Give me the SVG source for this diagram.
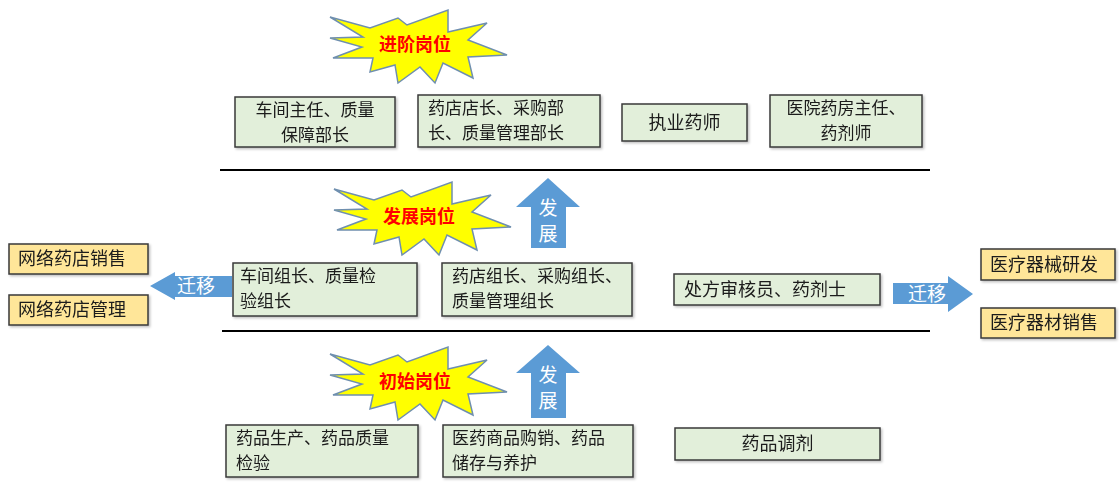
<svg xmlns="http://www.w3.org/2000/svg" width="1120" height="491" viewBox="0 0 1120 491">
<style>
.box{fill:#E2EFDA;stroke:#3A3A3A;stroke-width:1.5}
.ybox{fill:#FFE699;stroke:#3A3A3A;stroke-width:1.5}
.t{font-family:"Microsoft YaHei","Noto Sans CJK SC",sans-serif;font-size:18px;fill:#1a1a1a}
.t2{font-size:17px}
.st{font-family:"Microsoft YaHei","Noto Sans CJK SC",sans-serif;font-size:18px;font-weight:bold;fill:#FF0000;text-anchor:middle}
.at{font-family:"Microsoft YaHei","Noto Sans CJK SC",sans-serif;font-size:19px;fill:#FFFFFF;text-anchor:middle}
.star{fill:#FFFF00;stroke:#6F8FAF;stroke-width:1.5;stroke-linejoin:miter}
.arr{fill:#5B9BD5}
.sep{stroke:#000;stroke-width:2}
.c{text-anchor:middle}
</style>
<defs>
<path id="starShape" d="M-85,-28 L-45,-17 L-17,-27 L-8,-20 L33,-35 L33,-13 L72,-22 L53,-5 L92,10 L53,12 L58,33 L28,18 L20,38 L5,22 L-17,38 L-20,20 L-45,27 L-42,13 L-82,13 L-53,2 L-85,-7 L-52,-8 Z"/>
<filter id="sh" x="-10%" y="-10%" width="130%" height="140%">
<feDropShadow dx="1.5" dy="1.5" stdDeviation="1" flood-color="#000" flood-opacity="0.25"/>
</filter>
</defs>

<g id="separators">
<line class="sep" x1="220" y1="170" x2="930" y2="170"/>
<line class="sep" x1="222" y1="331" x2="930" y2="331"/>
</g>

<g id="star-advanced">
<use href="#starShape" class="star" transform="translate(415,45)"/>
<text class="st" x="415" y="51">进阶岗位</text>
</g>
<g id="star-develop">
<use href="#starShape" class="star" transform="translate(419,217)"/>
<text class="st" x="419" y="223">发展岗位</text>
</g>
<g id="star-initial">
<use href="#starShape" class="star" transform="translate(415,382)"/>
<text class="st" x="415" y="388">初始岗位</text>
</g>

<g id="connectors">
<g id="up-arrow-1">
<polygon class="arr" points="548,178 580,207 566,207 566,248 531,248 531,207 516,207"/>
<text class="at" x="548" y="215">发</text>
<text class="at" x="548" y="241">展</text>
</g>
<g id="up-arrow-2">
<polygon class="arr" points="548,345 580,373 566,373 566,418 531,418 531,373 516,373"/>
<text class="at" x="548" y="382">发</text>
<text class="at" x="548" y="408">展</text>
</g>
<g id="left-arrow">
<polygon class="arr" points="150,286 175,272 175,276 232,276 232,297 175,297 175,300"/>
<text class="at" x="196" y="293">迁移</text>
</g>
<g id="right-arrow">
<polygon class="arr" points="973,294 948,276 948,283 893,283 893,304 948,304 948,312"/>
<text class="at" x="927" y="301">迁移</text>
</g>
</g>

<g id="n-r1-a" filter="url(#sh)">
<rect class="box" x="235" y="97" width="160" height="50"/>
<text class="t t2 c" x="315" y="116">车间主任、质量</text>
<text class="t t2 c" x="315" y="141">保障部长</text>
</g>
<g id="n-r1-b" filter="url(#sh)">
<rect class="box" x="418" y="95" width="182" height="52"/>
<text class="t t2" x="428" y="114">药店店长、采购部</text>
<text class="t t2" x="428" y="139">长、质量管理部长</text>
</g>
<g id="n-r1-c" filter="url(#sh)">
<rect class="box" x="622" y="104" width="125" height="37"/>
<text class="t c" x="684.5" y="129">执业药师</text>
</g>
<g id="n-r1-d" filter="url(#sh)">
<rect class="box" x="770" y="95" width="152" height="52"/>
<text class="t t2 c" x="846" y="114">医院药房主任、</text>
<text class="t t2 c" x="846" y="139">药剂师</text>
</g>

<g id="n-r2-a" filter="url(#sh)">
<rect class="box" x="233" y="263" width="184" height="53"/>
<text class="t t2" x="240" y="282">车间组长、质量检</text>
<text class="t t2" x="240" y="307">验组长</text>
</g>
<g id="n-r2-b" filter="url(#sh)">
<rect class="box" x="442" y="263" width="190" height="53"/>
<text class="t t2" x="452" y="282">药店组长、采购组长、</text>
<text class="t t2" x="452" y="307">质量管理组长</text>
</g>
<g id="n-r2-c" filter="url(#sh)">
<rect class="box" x="674" y="274" width="206" height="31"/>
<text class="t" x="684" y="296">处方审核员、药剂士</text>
</g>

<g id="n-left-1" filter="url(#sh)">
<rect class="ybox" x="9" y="244" width="139" height="30"/>
<text class="t" x="18" y="265">网络药店销售</text>
</g>
<g id="n-left-2" filter="url(#sh)">
<rect class="ybox" x="9" y="295" width="139" height="30"/>
<text class="t" x="18" y="316">网络药店管理</text>
</g>
<g id="n-right-1" filter="url(#sh)">
<rect class="ybox" x="981" y="249" width="134" height="31"/>
<text class="t" x="990" y="271">医疗器械研发</text>
</g>
<g id="n-right-2" filter="url(#sh)">
<rect class="ybox" x="981" y="308" width="134" height="30"/>
<text class="t" x="990" y="329">医疗器材销售</text>
</g>

<g id="n-r3-a" filter="url(#sh)">
<rect class="box" x="226" y="425" width="192" height="52"/>
<text class="t t2" x="236" y="444">药品生产、药品质量</text>
<text class="t t2" x="236" y="469">检验</text>
</g>
<g id="n-r3-b" filter="url(#sh)">
<rect class="box" x="443" y="425" width="190" height="52"/>
<text class="t t2" x="452" y="444">医药商品购销、药品</text>
<text class="t t2" x="452" y="469">储存与养护</text>
</g>
<g id="n-r3-c" filter="url(#sh)">
<rect class="box" x="675" y="428" width="205" height="32"/>
<text class="t c" x="777.5" y="450">药品调剂</text>
</g>
</svg>
